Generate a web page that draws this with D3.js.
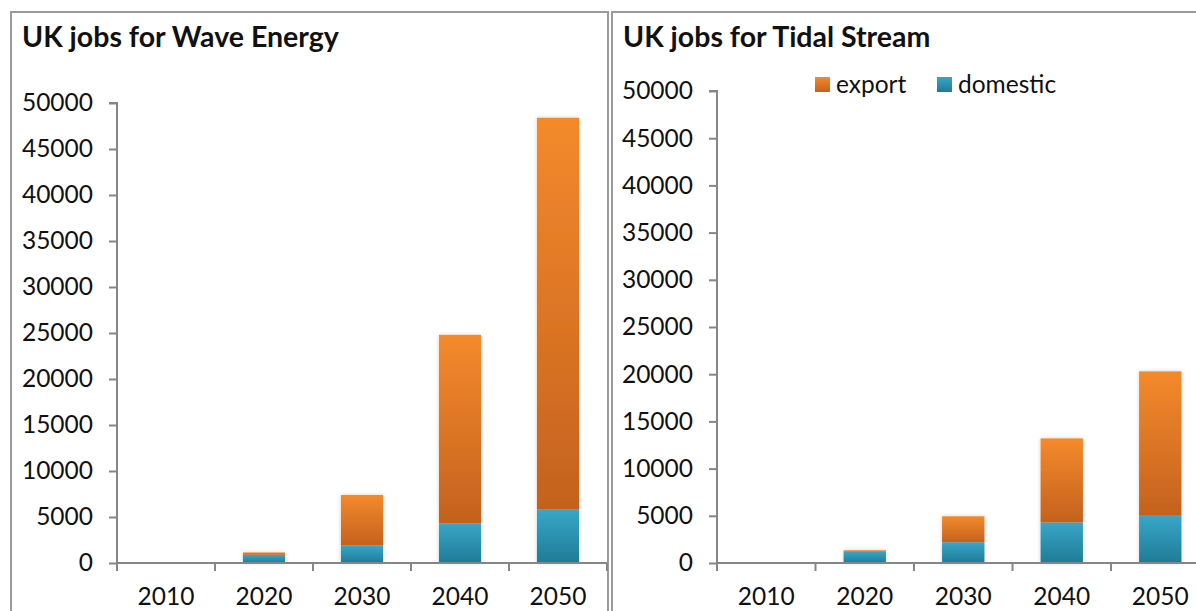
<!DOCTYPE html>
<html>
<head>
<meta charset="utf-8">
<script src="https://cdn.jsdelivr.net/npm/d3@7"></script>
<style>
  html, body { margin: 0; padding: 0; background: #fff; }
  svg { display: block; }
  text { font-family: Lato, "Open Sans", sans-serif; fill: #111; }
</style>
</head>
<body>
<svg id="chart" width="1196" height="611"></svg>
<script>
// Decades shown on both charts
const years = ["2010", "2020", "2030", "2040", "2050"];

// Wave energy jobs
const waveDomestic = [0, 900, 1900, 4300, 5800];
const waveExport   = [0, 250, 5500, 20500, 42600];

// Tidal stream jobs
const tidalDomestic = [0, 1200, 2200, 4300, 5000];
const tidalExport   = [0, 150, 2750, 8900, 15300];

const yTicks = [0, 5000, 10000, 15000, 20000, 25000, 30000, 35000, 40000, 45000, 50000];
const seriesNames = ["export", "domestic"];

const svg = d3.select("#chart");
const defs = svg.append("defs");

function gradient(id, top, bottom) {
  const g = defs.append("linearGradient").attr("id", id)
    .attr("x1", 0).attr("y1", 0).attr("x2", 0).attr("y2", 1);
  g.append("stop").attr("offset", "0%").attr("stop-color", top);
  g.append("stop").attr("offset", "100%").attr("stop-color", bottom);
}
gradient("gExport", "#F48A2C", "#C4611E");
gradient("gDomestic", "#38A6C9", "#207B96");

const glow = defs.append("filter").attr("id", "glow")
  .attr("x", "-20%").attr("y", "-20%").attr("width", "140%").attr("height", "140%");
glow.append("feGaussianBlur").attr("in", "SourceAlpha").attr("stdDeviation", 2).attr("result", "b");
glow.append("feComponentTransfer").attr("in", "b").attr("result", "s")
  .append("feFuncA").attr("type", "linear").attr("slope", 0.18);
const merge = glow.append("feMerge");
merge.append("feMergeNode").attr("in", "s");
merge.append("feMergeNode").attr("in", "SourceGraphic");

const fills = { export: "url(#gExport)", domestic: "url(#gDomestic)" };

function panel(opts) {
  const g = svg.append("g");

  // frame
  g.append("rect")
    .attr("x", opts.frame[0]).attr("y", opts.frame[1])
    .attr("width", opts.frame[2]).attr("height", opts.frame[3])
    .attr("fill", "none").attr("stroke", "#9a9a9a").attr("stroke-width", 2);

  g.append("text")
    .attr("x", opts.titleX).attr("y", 47)
    .style("font-weight", "bold").style("font-size", "28.5px")
    .text(opts.title);

  const y = d3.scaleLinear().domain([0, 50000]).range([opts.y0, opts.yTop]);
  const x = d3.scaleBand().domain(years)
    .range([opts.x0, opts.x0 + opts.step * years.length])
    .paddingInner(0.57).paddingOuter(0.285);

  const data = years.map((yr, i) => ({ year: yr, domestic: opts.domestic[i], export: opts.exp[i] }));
  const stacked = d3.stack().keys(["domestic", "export"])(data);

  // bars
  const bars = g.append("g").attr("filter", "url(#glow)");
  stacked.forEach(layer => {
    bars.selectAll(null).data(layer.filter(d => d[1] - d[0] > 0)).join("rect")
      .attr("x", d => x(d.data.year))
      .attr("width", x.bandwidth())
      .attr("y", d => y(d[1]))
      .attr("height", d => y(d[0]) - y(d[1]))
      .attr("fill", fills[layer.key]);
  });

  // y axis
  const yAxis = g.append("g").attr("transform", `translate(${opts.x0},0)`)
    .call(d3.axisLeft(y).tickValues(yTicks).tickFormat(d3.format("d")).tickSize(8).tickPadding(16));
  yAxis.select(".domain").attr("stroke", "#868686").attr("stroke-width", 2)
    .attr("d", `M-8,${opts.yTop}H0V${opts.y0}`);
  yAxis.selectAll(".tick line").attr("stroke", "#868686").attr("stroke-width", 2);
  yAxis.selectAll(".tick text").style("font-size", "24.5px").attr("fill", "#111")
    .style("font-family", "Lato, 'Open Sans', sans-serif");

  // x axis
  const xPos = d3.scaleLinear().domain([0, years.length]).range([opts.x0, opts.x0 + opts.step * years.length]);
  const xAxis = g.append("g").attr("transform", `translate(0,${opts.y0})`);
  xAxis.append("line")
    .attr("x1", opts.x0).attr("x2", xPos(years.length))
    .attr("stroke", "#868686").attr("stroke-width", 2);
  xAxis.selectAll("line.tk").data(d3.range(years.length + 1)).join("line").attr("class", "tk")
    .attr("x1", d => xPos(d)).attr("x2", d => xPos(d))
    .attr("y1", 0).attr("y2", 8)
    .attr("stroke", "#868686").attr("stroke-width", 2);
  xAxis.selectAll("text").data(years).join("text")
    .attr("x", d => x(d) + x.bandwidth() / 2)
    .attr("y", 42)
    .attr("text-anchor", "middle")
    .style("font-size", "24.5px")
    .text(d => d);

  return g;
}

panel({
  frame: [11, 12, 597, 620],
  title: "UK jobs for Wave Energy", titleX: 22,
  x0: 117, step: 98, y0: 563, yTop: 103,
  domestic: waveDomestic, exp: waveExport
});

const right = panel({
  frame: [612, 12, 600, 620],
  title: "UK jobs for Tidal Stream", titleX: 623,
  x0: 717, step: 98.5, y0: 563, yTop: 91,
  domestic: tidalDomestic, exp: tidalExport
});

// legend
const legend = right.append("g");
const legX = [815, 937];
seriesNames.forEach((name, i) => {
  legend.append("rect")
    .attr("x", legX[i]).attr("y", 77).attr("width", 15).attr("height", 15)
    .attr("fill", fills[name]);
  legend.append("text")
    .attr("x", legX[i] + 21).attr("y", 93)
    .style("font-size", "24.5px")
    .text(name);
});
</script>
</body>
</html>
